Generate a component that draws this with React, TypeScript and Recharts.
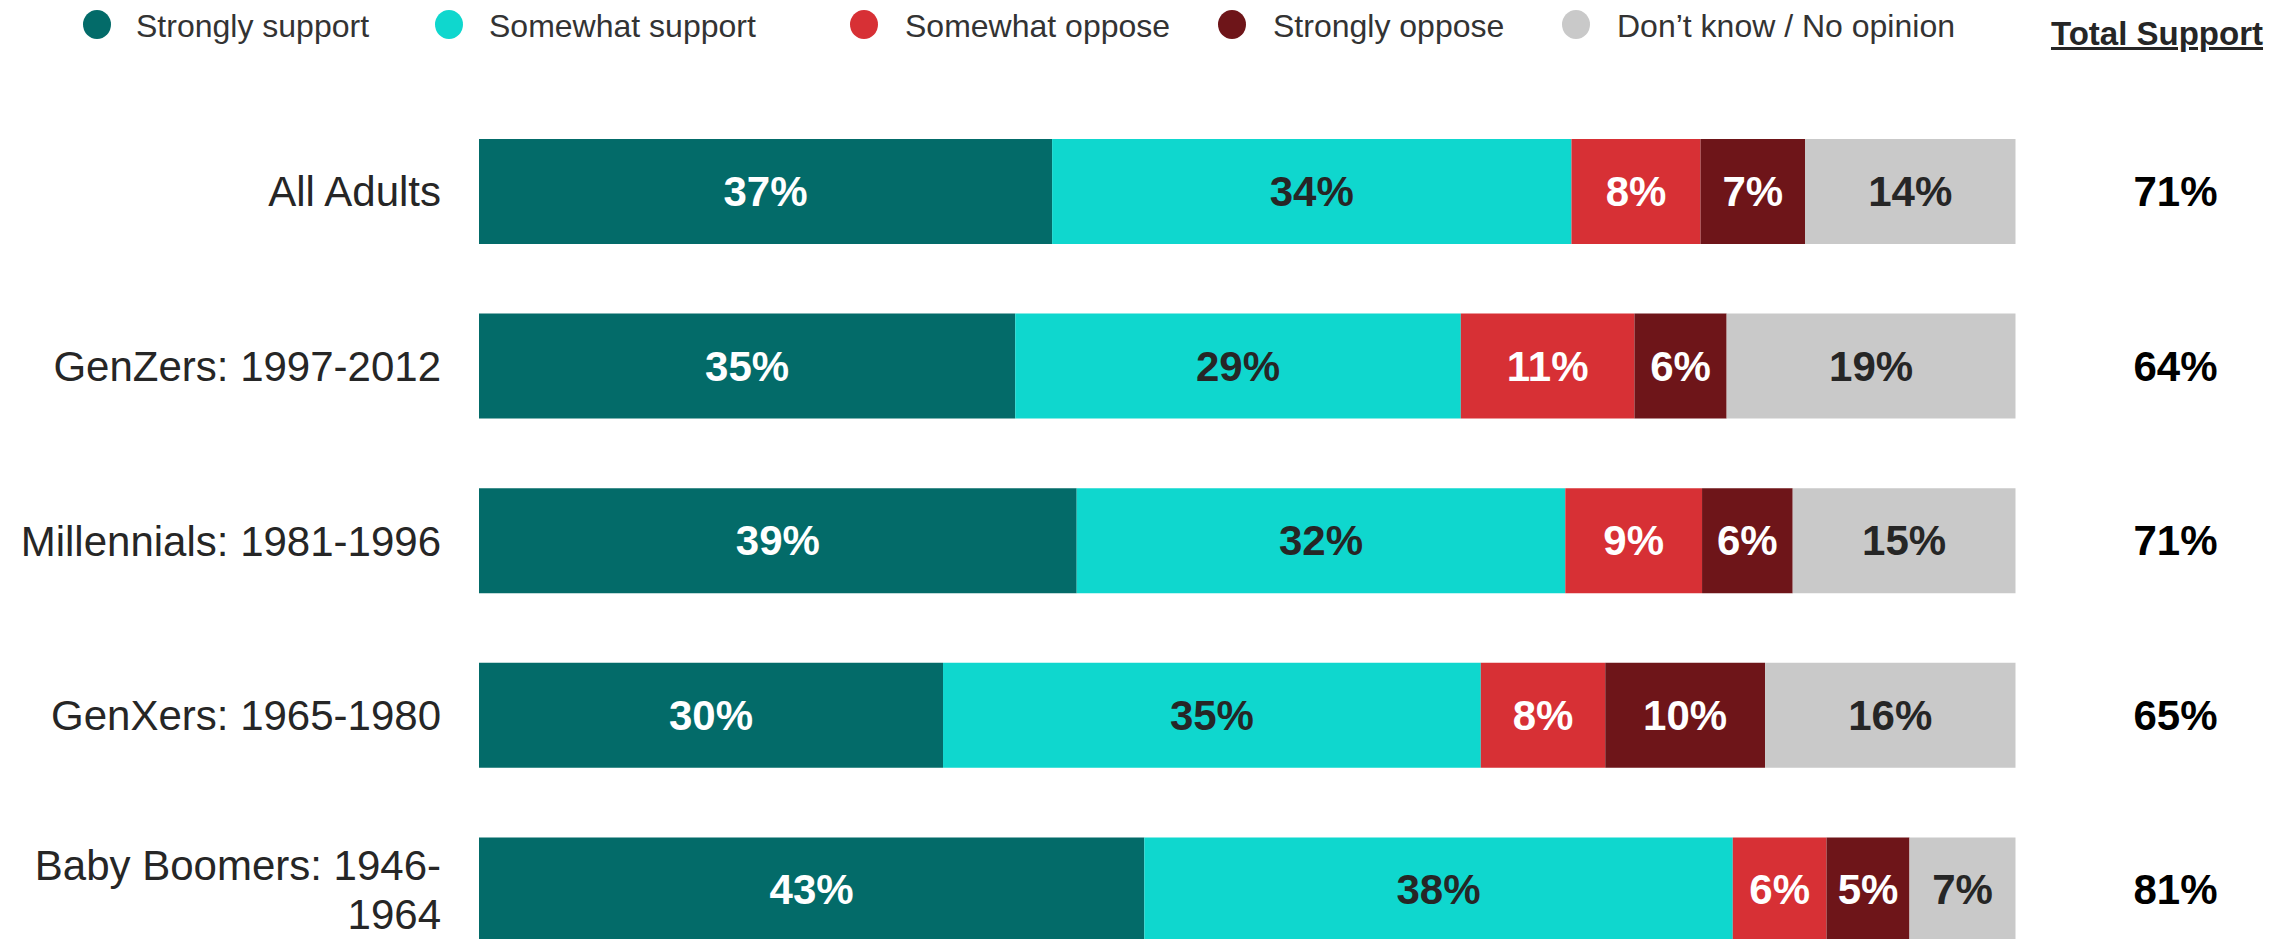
import React from 'react';
import { BarChart, Bar, XAxis, YAxis, LabelList } from 'recharts';

const groups = [
  'All Adults',
  'GenZers: 1997-2012',
  'Millennials: 1981-1996',
  'GenXers: 1965-1980',
  'Baby Boomers: 1946-\n1964',
];
const stronglySupport = [37.3, 34.9, 38.9, 30.2, 43.3];
const somewhatSupport = [33.8, 29.0, 31.8, 35.0, 38.3];
const somewhatOppose = [8.4, 11.3, 8.9, 8.1, 6.1];
const stronglyOppose = [6.8, 6.0, 5.9, 10.4, 5.4];
const dontKnow = [13.7, 18.8, 14.5, 16.3, 6.9];
const totalSupport = [71, 64, 71, 65, 81];

const series = [
  { key: 'strongSupport', name: 'Strongly support', color: '#036B69', text: '#FFFFFF', values: stronglySupport },
  { key: 'someSupport', name: 'Somewhat support', color: '#0FD7CE', text: '#262626', values: somewhatSupport },
  { key: 'someOppose', name: 'Somewhat oppose', color: '#D73035', text: '#FFFFFF', values: somewhatOppose },
  { key: 'strongOppose', name: 'Strongly oppose', color: '#6E1519', text: '#FFFFFF', values: stronglyOppose },
  { key: 'dontKnow', name: 'Don\u2019t know / No opinion', color: '#C9C9C9', text: '#262626', values: dontKnow },
];

// legend placement (marker centre x, text start x)
const legendPos = [
  [97, 136],
  [449, 489],
  [864, 905],
  [1232, 1273],
  [1576, 1617],
];

const data = groups.map((g, i) => {
  const row: any = { group: g, total: totalSupport[i] };
  series.forEach((s) => (row[s.key] = s.values[i]));
  return row;
});

const FONT = '"Liberation Sans", Arial, sans-serif';

const GroupTick = (props: any) => {
  const { x, y, payload } = props;
  const lines = String(payload.value).split('\n');
  const lh = 49;
  const start = y - ((lines.length - 1) * lh) / 2;
  return (
    <text x={x} y={start} textAnchor="end" dominantBaseline="central" fill="#262626" fontSize={42} fontFamily={FONT}>
      {lines.map((l, i) => (
        <tspan key={i} x={x} y={start + i * lh} dominantBaseline="central">
          {l}
        </tspan>
      ))}
    </text>
  );
};

const makeLabel = (color: string) => (props: any) => {
  const { x, y, width, height, value } = props;
  return (
    <text
      x={x + width / 2}
      y={y + height / 2}
      textAnchor="middle"
      dominantBaseline="central"
      fill={color}
      fontSize={42}
      fontWeight="bold"
      fontFamily={FONT}
    >
      {`${Math.round(value)}%`}
    </text>
  );
};

const TotalLabel = (props: any) => {
  const { x, y, width, height, index } = props;
  return (
    <text
      x={x + width + 160}
      y={y + height / 2}
      textAnchor="middle"
      dominantBaseline="central"
      fill="#000000"
      fontSize={42}
      fontWeight="bold"
      fontFamily={FONT}
    >
      {`${totalSupport[index]}%`}
    </text>
  );
};

export default function App() {
  return (
    <div
      style={{
        position: 'absolute',
        left: 0,
        top: 0,
        width: 2295,
        height: 939,
        overflow: 'hidden',
        background: '#fff',
        fontFamily: FONT,
      }}
    >
      {series.map((s, i) => (
        <React.Fragment key={s.key}>
          <div
            style={{
              position: 'absolute',
              left: legendPos[i][0] - 14,
              top: 10,
              width: 28,
              height: 29,
              borderRadius: '50%',
              background: s.color,
            }}
          />
          <div
            style={{
              position: 'absolute',
              left: legendPos[i][1],
              top: 6,
              fontSize: 32,
              lineHeight: '40px',
              color: '#333333',
              whiteSpace: 'nowrap',
            }}
          >
            {s.name}
          </div>
        </React.Fragment>
      ))}
      <div
        style={{
          position: 'absolute',
          left: 2157,
          top: 14,
          transform: 'translateX(-50%)',
          fontSize: 33,
          lineHeight: '40px',
          fontWeight: 'bold',
          textDecoration: 'underline',
          color: '#262626',
          whiteSpace: 'nowrap',
        }}
      >
        Total Support
      </div>
      <div style={{ position: 'absolute', left: 0, top: 0 }}>
        <BarChart
          width={2295}
          height={977}
          data={data}
          layout="vertical"
          margin={{ top: 104, right: 279.5, bottom: 0, left: 0 }}
          barSize={105}
        >
          <XAxis type="number" domain={[0, 100]} hide />
          <YAxis
            type="category"
            dataKey="group"
            width={479}
            tickLine={false}
            axisLine={false}
            tickSize={0}
            tickMargin={38}
            tick={<GroupTick />}
            interval={0}
          />
          {series.map((s, i) => (
            <Bar key={s.key} dataKey={s.key} name={s.name} stackId="a" fill={s.color} isAnimationActive={false}>
              <LabelList dataKey={s.key} content={makeLabel(s.text)} />
              {i === series.length - 1 && <LabelList dataKey="total" content={TotalLabel} />}
            </Bar>
          ))}
        </BarChart>
      </div>
    </div>
  );
}
